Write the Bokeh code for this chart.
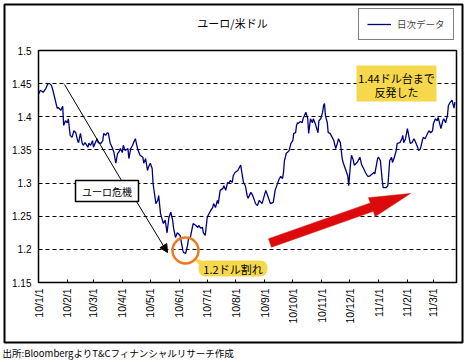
import numpy as np
import pandas as pd
from bokeh.plotting import figure
from bokeh.layouts import column
from bokeh.models import (Range1d, FixedTicker, NumeralTickFormatter, Legend, LegendItem,
                          BoxAnnotation, Label, Arrow, NormalHead)
from bokeh.embed import file_html
from bokeh.resources import INLINE

# ---------------- data ----------------
base_date = pd.Timestamp("2010-01-01")
# days since 2010-01-01
day_offset = [0, 2, 5, 8, 10, 12, 14, 16, 18, 20, 21, 24, 26, 27, 29, 31, 32, 34, 36, 38, 40, 42, 43, 45, 47, 48,
              50, 53, 54, 56, 58, 59, 61, 63, 64, 67, 69, 70, 72, 74, 75, 77, 79, 81, 83, 85, 86, 88, 90, 91, 93,
              96, 97, 99, 101, 102, 104, 106, 107, 109, 112, 113, 115, 117, 118, 120, 122, 123, 126, 128, 129,
              131, 133, 134, 136, 138, 140, 142, 144, 145, 147, 149, 150, 152, 155, 156, 158, 160, 161, 163, 165,
              166, 169, 171, 172, 174, 176, 177, 179, 181, 182, 185, 187, 188, 190, 192, 193, 195, 198, 199, 201,
              203, 204, 206, 208, 209, 211, 214, 215, 217, 220, 222, 224, 225, 228, 230, 231, 233, 235, 237, 240,
              244, 246, 249, 252, 254, 257, 258, 260, 262, 263, 264, 265, 266, 267, 269, 271, 273, 274, 276, 277,
              278, 279, 281, 283, 284, 287, 289, 290, 292, 294, 295, 297, 300, 301, 303, 305, 306, 307, 308, 310,
              311, 313, 316, 317, 319, 321, 322, 324, 326, 327, 330, 332, 333, 335, 336, 338, 339, 342, 345, 347,
              349, 351, 353, 354, 356, 360, 361, 364, 365, 367, 368, 369, 370, 373, 375, 376, 377, 379, 380, 382,
              384, 385, 388, 390, 391, 392, 394, 396, 397, 399, 401, 403, 405, 407, 408, 410, 412, 413, 415, 418,
              419, 421, 423, 424, 426, 428, 429, 432, 434, 435, 437, 439, 440, 442, 444, 446, 447]
eurusd = [1.434, 1.440, 1.437, 1.443, 1.450, 1.450, 1.447, 1.437, 1.425, 1.413, 1.414, 1.410, 1.416, 1.387, 1.394,
          1.391, 1.397, 1.372, 1.369, 1.379, 1.376, 1.364, 1.361, 1.375, 1.360, 1.357, 1.361, 1.354, 1.360, 1.357,
          1.364, 1.354, 1.361, 1.367, 1.361, 1.360, 1.364, 1.375, 1.372, 1.376, 1.375, 1.360, 1.354, 1.346, 1.330,
          1.345, 1.346, 1.352, 1.346, 1.357, 1.349, 1.352, 1.337, 1.352, 1.357, 1.361, 1.367, 1.354, 1.349, 1.342,
          1.339, 1.330, 1.337, 1.319, 1.324, 1.330, 1.322, 1.299, 1.269, 1.274, 1.281, 1.254, 1.244, 1.239, 1.244,
          1.225, 1.248, 1.256, 1.244, 1.232, 1.218, 1.225, 1.224, 1.221, 1.198, 1.195, 1.194, 1.206, 1.216, 1.218,
          1.232, 1.239, 1.236, 1.233, 1.236, 1.232, 1.233, 1.225, 1.221, 1.247, 1.251, 1.259, 1.263, 1.269, 1.263,
          1.274, 1.269, 1.289, 1.292, 1.296, 1.289, 1.301, 1.299, 1.304, 1.301, 1.311, 1.316, 1.319, 1.322, 1.327,
          1.301, 1.296, 1.281, 1.277, 1.286, 1.281, 1.277, 1.269, 1.266, 1.274, 1.269, 1.289, 1.281, 1.269, 1.271,
          1.289, 1.301, 1.305, 1.310, 1.307, 1.316, 1.334, 1.339, 1.345, 1.346, 1.349, 1.360, 1.364, 1.375, 1.376,
          1.387, 1.391, 1.390, 1.393, 1.391, 1.397, 1.407, 1.397, 1.375, 1.397, 1.391, 1.397, 1.390, 1.376, 1.394,
          1.397, 1.407, 1.417, 1.420, 1.402, 1.391, 1.376, 1.375, 1.367, 1.364, 1.352, 1.361, 1.367, 1.361, 1.337,
          1.331, 1.319, 1.311, 1.296, 1.330, 1.342, 1.334, 1.327, 1.331, 1.339, 1.327, 1.322, 1.316, 1.311, 1.310,
          1.311, 1.316, 1.314, 1.337, 1.339, 1.334, 1.319, 1.304, 1.293, 1.293, 1.296, 1.314, 1.334, 1.339, 1.331,
          1.339, 1.349, 1.360, 1.361, 1.367, 1.372, 1.361, 1.367, 1.382, 1.375, 1.360, 1.361, 1.367, 1.361, 1.354,
          1.349, 1.352, 1.364, 1.369, 1.367, 1.376, 1.379, 1.376, 1.379, 1.390, 1.397, 1.394, 1.399, 1.382, 1.394,
          1.397, 1.391, 1.402, 1.417, 1.422, 1.425, 1.413, 1.422]

tick_months = pd.date_range("2010-01-01", "2011-03-01", freq="MS")
tick_labels = ["10/1/1", "10/2/1", "10/3/1", "10/4/1", "10/5/1", "10/6/1", "10/7/1", "10/8/1",
               "10/9/1", "10/10/1", "10/11/1", "10/12/1", "11/1/1", "11/2/1", "11/3/1"]
y_ticks = [1.15, 1.2, 1.25, 1.3, 1.35, 1.4, 1.45, 1.5]
series_name = "日次データ"
title_text = "ユーロ/米ドル"
source_text = "出所:BloombergよりT&Cフィナンシャルリサーチ作成"

# ---------------- layout helpers ----------------
W, H = 466, 360
FL, FR, FT, FB = 38, 456, 50, 282
X_END = 448.7
Y0, Y1 = 1.15, 1.5


def X(px):
    return (px - FL) / (FR - FL) * X_END


def Y(py):
    return Y1 - (py - FT) / (FB - FT) * (Y1 - Y0)


JP = "Noto Sans CJK JP"
YELLOW = "#F6D84C"
NAVY = "#000080"
ABS = {"position": "absolute", "left": "0px", "top": "0px"}

# ---------------- background figure: outer frame, title, legend, source ----------------
bg = figure(width=W, height=H, x_range=Range1d(0, W), y_range=Range1d(H, 0),
            output_backend="svg", toolbar_location=None, min_border=0,
            x_axis_location=None, y_axis_location=None,
            background_fill_color="white", border_fill_color="white")
bg.frame_align = False
bg.styles = dict(ABS, **{"z-index": "0"})
bg.outline_line_color = None
bg.xgrid.visible = False
bg.ygrid.visible = False
bg.quad(left=[4], right=[462], top=[4], bottom=[342], fill_alpha=0, line_color="black", line_width=2)
bg.add_layout(Label(x=232, y=22, text=title_text, text_align="center", text_baseline="middle",
                    text_font=JP, text_font_size="11px", text_color="black"))
bg.add_layout(Label(x=2, y=352, text=source_text, text_align="left", text_baseline="middle",
                    text_font=JP, text_font_size="9.5px", text_color="black"))
# proxy renderer (kept off-canvas) so that the legend can show the series' line style
legend_line = bg.line([-20, -10], [-20, -20], color=NAVY, line_width=1.3)
legend = Legend(items=[LegendItem(label=series_name, renderers=[legend_line])],
                location=(358, H - 40), margin=0, padding=8, glyph_width=24, glyph_height=12,
                label_standoff=6, label_text_font=JP, label_text_font_size="9.5px",
                border_line_color="black", border_line_width=1.5, background_fill_color="white",
                background_fill_alpha=1)
bg.add_layout(legend)

# ---------------- chart figure ----------------
p = figure(width=W, height=H, x_range=Range1d(0, X_END), y_range=Range1d(Y0, Y1),
           output_backend="svg", toolbar_location=None,
           min_border_left=FL, min_border_right=W - FR, min_border_top=FT, min_border_bottom=H - FB,
           background_fill_color="white", border_fill_alpha=0)
p.frame_align = False
p.styles = dict(ABS, **{"z-index": "1"})
p.outline_line_color = "black"
p.outline_line_width = 1.5

tick_days = [int((d - base_date).days) for d in tick_months]
p.xaxis.ticker = FixedTicker(ticks=tick_days)
p.xaxis.major_label_overrides = {d: lab for d, lab in zip(tick_days, tick_labels)}
p.xaxis.major_label_orientation = np.pi / 2
p.xaxis.major_tick_in = 3
p.xaxis.major_tick_out = 0
p.xaxis.minor_tick_line_color = None
p.xaxis.major_label_standoff = 6
p.xaxis.major_label_text_font = "Liberation Sans"
p.xaxis.major_label_text_font_size = "10.5px"
p.xaxis.major_label_text_color = "black"
p.xaxis.axis_line_color = "black"
p.xaxis.major_tick_line_color = "black"

p.yaxis.ticker = FixedTicker(ticks=y_ticks)
p.yaxis.formatter = NumeralTickFormatter(format="0.0[0]")
p.yaxis.major_tick_in = 0
p.yaxis.major_tick_out = 0
p.yaxis.minor_tick_line_color = None
p.yaxis.major_label_standoff = 7
p.yaxis.major_label_text_font = "Liberation Sans"
p.yaxis.major_label_text_font_size = "10px"
p.yaxis.major_label_text_color = "black"
p.yaxis.axis_line_color = "black"

p.xgrid.visible = False
p.ygrid.grid_line_color = "black"
p.ygrid.grid_line_dash = "4 3"
p.ygrid.grid_line_width = 1

r = p.line(day_offset, eurusd, color=NAVY, line_width=1.3)

# "ユーロ危機" callout
p.segment(x0=[X(64)], y0=[Y(84)], x1=[X(121)], y1=[Y(180)], color="black", line_width=1)
p.add_layout(Arrow(x_start=X(136), y_start=Y(201), x_end=X(167), y_end=Y(252), line_width=1,
                   line_color="black", end=NormalHead(size=8, fill_color="black", line_color="black")))
p.add_layout(BoxAnnotation(left=X(75), right=X(138), top=Y(180), bottom=Y(201),
                           fill_color="white", fill_alpha=1, line_color="black", line_alpha=1, line_width=1.5))
p.add_layout(Label(x=X(106.5), y=Y(190.5), text="ユーロ危機", text_align="center", text_baseline="middle",
                   text_font=JP, text_font_size="10px", text_color="black"))

# 1.2 break circle + callout
p.scatter([X(185)], [Y(250)], size=26, marker="circle", fill_alpha=0, line_color="#F07820",
          line_width=2.5, level="overlay")
p.patch([X(192), X(204), X(201)], [Y(257), Y(261), Y(267)], color=YELLOW, line_color=None)
p.add_layout(BoxAnnotation(left=X(198), right=X(267), top=Y(260), bottom=Y(276), border_radius=7,
                           fill_color=YELLOW, fill_alpha=1, line_color=None))
p.add_layout(Label(x=X(232.5), y=Y(268), text="1.2ドル割れ", text_align="center", text_baseline="middle",
                   text_font=JP, text_font_size="11px", text_color="black"))

# 1.44 rebound note
p.add_layout(BoxAnnotation(left=X(356), right=X(436), top=Y(65), bottom=Y(101),
                           fill_color=YELLOW, fill_alpha=1, line_color=None))
p.add_layout(Label(x=X(396), y=Y(77), text="1.44ドル台まで", text_align="center", text_baseline="middle",
                   text_font=JP, text_font_size="11px", text_color="black"))
p.add_layout(Label(x=X(396), y=Y(91), text="反発した", text_align="center", text_baseline="middle",
                   text_font=JP, text_font_size="11px", text_color="black"))

# red trend arrow (shape computed in screen pixels)
T = np.array([269.5, 242.5])
P = np.array([410.0, 193.0])
u = (P - T) / np.linalg.norm(P - T)
n = np.array([-u[1], u[0]])
B = P - 41 * u
pts = [T + 4.5 * n, B + 4.5 * n, B + 10 * n, P, B - 10 * n, B - 4.5 * n, T - 4.5 * n]
p.patch([X(q[0]) for q in pts], [Y(q[1]) for q in pts], color="#DC0A0A", line_color="#DC0A0A",
        line_width=0.5, level="overlay")

root = column(bg, p, width=W, height=H)
root.styles = {"position": "absolute", "left": "0px", "top": "0px"}

open("out.html", "w").write(file_html(root, INLINE))
